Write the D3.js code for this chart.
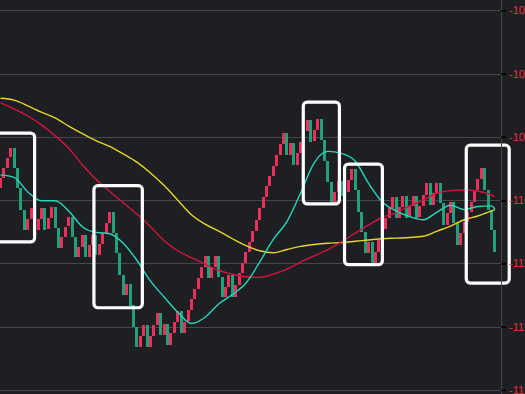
<!DOCTYPE html>
<html>
<head>
<meta charset="utf-8">
<script src="https://cdn.jsdelivr.net/npm/d3@7/dist/d3.min.js"></script>
<style>
  html, body { margin: 0; padding: 0; background: #1e1f23; }
  svg { display: block; }
</style>
</head>
<body>
<div id="chart"></div>
<script>
// свечи: цена открытия / закрытия по порядку
const opens = [-1098.1,-1096.5,-1094.9,-1093.3,-1091.8,-1094.9,-1098.1,-1101.6,-1104.7,-1103.0,
  -1101.2,-1104.7,-1103.0,-1101.2,-1104.6,-1102.8,-1101.1,-1104.4,-1107.6,-1105.8,
  -1104.2,-1102.7,-1105.8,-1109.0,-1107.4,-1105.5,-1109.0,-1107.1,-1105.5,-1108.7,
  -1106.9,-1105.2,-1103.6,-1101.9,-1105.2,-1108.3,-1111.8,-1115.0,-1113.2,-1116.6,
  -1120.0,-1123.2,-1121.5,-1119.7,-1123.2,-1121.5,-1119.7,-1117.8,-1121.3,-1119.6,
  -1122.9,-1121.0,-1119.2,-1117.5,-1121.0,-1119.2,-1117.4,-1115.6,-1114.0,-1112.3,
  -1110.6,-1108.8,-1112.3,-1110.6,-1108.8,-1112.1,-1115.3,-1113.7,-1111.8,-1115.3,
  -1113.4,-1111.5,-1109.9,-1108.2,-1106.6,-1104.9,-1103.1,-1101.2,-1099.5,-1097.8,
  -1096.2,-1094.6,-1092.9,-1091.1,-1089.4,-1092.9,-1091.0,-1094.4,-1092.5,-1090.8,
  -1089.1,-1087.3,-1090.7,-1088.9,-1087.2,-1090.5,-1093.8,-1097.1,-1100.3,-1098.7,
  -1097.0,-1099.3,-1098.7,-1096.8,-1095.1,-1098.4,-1101.9,-1105.0,-1108.3,-1106.6,
  -1109.9,-1108.2,-1106.3,-1104.6,-1102.8,-1101.2,-1099.5,-1102.8,-1101.1,-1099.3,
  -1102.7,-1100.9,-1099.3,-1102.7,-1100.9,-1099.2,-1097.3,-1100.8,-1098.9,-1097.3,
  -1100.4,-1103.9,-1102.0,-1100.3,-1103.6,-1107.1,-1105.2,-1103.5,-1101.9,-1100.3,
  -1098.4,-1096.7,-1094.9,-1098.4,-1101.6,-1104.7];

const closes = [-1096.5,-1094.9,-1093.3,-1091.8,-1094.9,-1098.1,-1101.6,-1104.7,-1103.0,-1101.2,
  -1104.7,-1103.0,-1101.2,-1104.6,-1102.8,-1101.1,-1104.4,-1107.6,-1105.8,-1104.2,
  -1102.7,-1105.8,-1109.0,-1107.4,-1105.5,-1109.0,-1107.1,-1105.5,-1108.7,-1106.9,
  -1105.2,-1103.6,-1101.9,-1105.2,-1108.3,-1111.8,-1115.0,-1113.2,-1116.6,-1120.0,
  -1123.2,-1121.5,-1119.7,-1123.2,-1121.5,-1119.7,-1117.8,-1121.3,-1119.6,-1122.9,
  -1121.0,-1119.2,-1117.5,-1121.0,-1119.2,-1117.4,-1115.6,-1114.0,-1112.3,-1110.6,
  -1108.8,-1112.3,-1110.6,-1108.8,-1112.1,-1115.3,-1113.7,-1111.8,-1115.3,-1113.4,
  -1111.5,-1109.9,-1108.2,-1106.6,-1104.9,-1103.1,-1101.2,-1099.5,-1097.8,-1096.2,
  -1094.6,-1092.9,-1091.1,-1089.4,-1092.9,-1091.0,-1094.4,-1092.5,-1090.8,-1089.1,
  -1087.3,-1090.7,-1088.9,-1087.2,-1090.5,-1093.8,-1097.1,-1100.3,-1098.7,-1097.0,
  -1099.3,-1098.7,-1096.8,-1095.1,-1098.4,-1101.9,-1105.0,-1108.3,-1106.6,-1109.9,
  -1108.2,-1106.3,-1104.6,-1102.8,-1101.2,-1099.5,-1102.8,-1101.1,-1099.3,-1102.7,
  -1100.9,-1099.3,-1102.7,-1100.9,-1099.2,-1097.3,-1100.8,-1098.9,-1097.3,-1100.4,
  -1103.9,-1102.0,-1100.3,-1103.6,-1107.1,-1105.2,-1103.5,-1101.9,-1100.3,-1098.4,
  -1096.7,-1094.9,-1098.4,-1101.6,-1104.7,-1108.2];

// скользящие средние, снятые по точкам (индекс свечи)
const maIndex = [0,4,8,12,16,20,24,28,32,36,40,44,48,52,56,60,64,68,72,76,
  80,84,88,92,96,100,104,108,112,116,120,124,128,132,136,140,144,145];

const maFast = [-1096.0,-1096.4,-1098.7,-1100.1,-1100.1,-1101.7,-1104.2,-1105.1,-1105.3,-1106.8,
  -1109.5,-1112.8,-1115.3,-1117.7,-1119.5,-1118.5,-1116.4,-1114.9,-1113.1,-1109.8,
  -1106.2,-1103.4,-1098.9,-1094.1,-1092.3,-1092.6,-1093.8,-1097.4,-1100.3,-1101.7,
  -1102.6,-1103.1,-1101.9,-1100.8,-1101.5,-1101.0,-1100.9,-1101.4];

const maMid = [-1084.6,-1085.6,-1086.7,-1088.1,-1089.8,-1091.8,-1094.4,-1096.7,-1098.6,-1100.4,
  -1102.2,-1104.2,-1106.4,-1108.0,-1109.1,-1110.1,-1111.1,-1111.7,-1112.1,-1112.2,
  -1111.7,-1110.9,-1109.8,-1108.8,-1107.8,-1106.6,-1105.2,-1103.9,-1102.7,-1102.0,
  -1100.9,-1100.0,-1098.9,-1098.5,-1098.4,-1098.6,-1099.2,-1099.5];

const maSlow = [-1083.9,-1084.2,-1085.1,-1086.1,-1087.0,-1088.3,-1089.5,-1090.6,-1091.5,-1092.7,
  -1094.0,-1095.7,-1097.7,-1100.0,-1102.3,-1103.8,-1104.9,-1106.1,-1107.2,-1108.0,
  -1108.3,-1107.8,-1107.3,-1107.0,-1106.8,-1106.7,-1106.5,-1106.3,-1106.1,-1106.0,
  -1105.9,-1105.7,-1104.9,-1104.1,-1103.1,-1102.5,-1101.7,-1101.5];

const priceTicks = [-1070, -1080, -1090, -1100, -1110, -1120, -1130];

// выделенные участки (индекс свечи от/до, цена верх/низ)
const boxFrom = [-3.1, 27.4, 88.8, 100.9, 136.6];
const boxTo = [10.0, 41.6, 99.4, 112.0, 149.2];
const boxHigh = [-1089.4, -1097.7, -1084.5, -1094.3, -1091.3];
const boxLow = [-1106.6, -1117.0, -1100.6, -1110.2, -1113.1];

const W = 525, H = 394, AXIS_X = 501;
const COLORS = {
    bg: '#1e1f23',
    grid: '#46474b',
    up: '#ea305b',
    down: '#21a07a',
    fast: '#22d8bd',
    mid: '#d3143f',
    slow: '#e6d62a',
    label: '#f0313c'
};

const svg = d3.select('#chart').append('svg')
    .attr('width', W)
    .attr('height', H)
    .style('background', COLORS.bg);

const x = d3.scaleLinear()
    .domain([0, closes.length - 1])
    .range([0.5, 494.9]);

const y = d3.scaleLinear()
    .domain([-1130, -1070])
    .range([390, 10.3]);

// сетка
svg.append('g')
    .selectAll('line')
    .data(priceTicks)
    .join('line')
    .attr('x1', 0)
    .attr('x2', AXIS_X)
    .attr('y1', d => Math.round(y(d)) + 0.5)
    .attr('y2', d => Math.round(y(d)) + 0.5)
    .attr('stroke', COLORS.grid)
    .attr('stroke-width', 1);

// свечи (ширина 3px, привязка к пикселю)
const candleW = 3;
svg.append('g')
    .attr('shape-rendering', 'crispEdges')
    .selectAll('rect')
    .data(closes.map((c, i) => ({ i, o: opens[i], c })))
    .join('rect')
    .attr('x', d => Math.round(x(d.i) - candleW / 2))
    .attr('width', candleW)
    .attr('y', d => Math.round(y(Math.max(d.o, d.c))))
    .attr('height', d => Math.max(1, Math.round(Math.abs(y(d.o) - y(d.c)))))
    .attr('fill', d => d.c >= d.o ? COLORS.up : COLORS.down);

// скользящие средние
const maLine = d3.line()
    .x(d => x(d[0]))
    .y(d => y(d[1]))
    .curve(d3.curveMonotoneX);

[[maSlow, COLORS.slow], [maMid, COLORS.mid], [maFast, COLORS.fast]].forEach(([vals, color]) => {
    svg.append('path')
        .datum(maIndex.map((k, j) => [k, vals[j]]))
        .attr('d', maLine)
        .attr('fill', 'none')
        .attr('stroke', color)
        .attr('stroke-width', 1.4);
});

// белые рамки
svg.append('g')
    .selectAll('rect')
    .data(boxFrom.map((f, k) => ({ f, t: boxTo[k], hi: boxHigh[k], lo: boxLow[k] })))
    .join('rect')
    .attr('x', d => x(d.f))
    .attr('y', d => y(d.hi))
    .attr('width', d => x(d.t) - x(d.f))
    .attr('height', d => y(d.lo) - y(d.hi))
    .attr('rx', 4)
    .attr('fill', 'none')
    .attr('stroke', '#ffffff')
    .attr('stroke-width', 3.2);

// правая ось
svg.append('line')
    .attr('x1', AXIS_X + 0.5)
    .attr('x2', AXIS_X + 0.5)
    .attr('y1', 0)
    .attr('y2', H)
    .attr('stroke', COLORS.grid);

const axis = svg.append('g')
    .attr('transform', `translate(${AXIS_X},0)`)
    .call(d3.axisRight(y)
        .tickValues(priceTicks)
        .tickSize(5)
        .tickSizeOuter(0)
        .tickPadding(3)
        .tickFormat(d => String(d)));

axis.select('.domain').remove();
axis.selectAll('.tick line')
    .attr('stroke', '#000')
    .attr('stroke-width', 1.6);
axis.selectAll('.tick text')
    .attr('fill', COLORS.label)
    .attr('font-family', '"Liberation Sans", Arial, sans-serif')
    .attr('font-size', 11);
</script>
</body>
</html>
